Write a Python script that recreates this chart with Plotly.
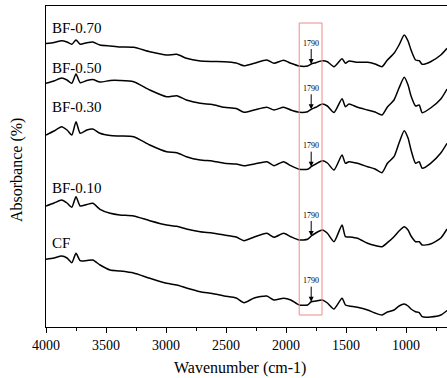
import plotly.graph_objects as go

# Wavenumbers (cm-1) sampled along the spectra
wavenumber = [4000, 3933, 3870, 3825, 3785, 3750, 3715, 3660, 3610, 3550, 3465, 3385,
              3270, 3135, 2995, 2910, 2830, 2715, 2615, 2515, 2415, 2350, 2265, 2160,
              2100, 2020, 1960, 1890, 1820, 1790, 1752, 1698, 1655, 1600, 1533, 1505,
              1475, 1405, 1320, 1258, 1200, 1155, 1100, 1058, 1015, 983, 958, 920,
              890, 865, 795, 710, 658]

# Absorbance (arbitrary units, stacked with offsets as in the figure)
bf070 = [283.5, 284.5, 286.3, 285.0, 282.7, 287.0, 282.7, 284.3, 285.0, 282.0, 281.0, 280.0,
         279.7, 275.3, 272.0, 272.7, 268.7, 266.0, 265.5, 265.3, 264.0, 261.3, 263.7, 267.0,
         263.7, 266.7, 263.7, 261.0, 261.0, 263.0, 264.3, 266.3, 265.3, 260.3, 268.3, 263.7,
         266.0, 264.7, 264.7, 263.0, 260.3, 267.0, 273.7, 282.0, 292.0, 286.0, 277.0, 267.0,
         266.3, 262.7, 265.3, 272.0, 278.7]
bf050 = [243.7, 246.0, 249.0, 247.0, 243.7, 253.0, 244.3, 246.5, 247.5, 245.0, 246.5, 246.5,
         245.3, 237.0, 230.3, 231.3, 227.0, 223.7, 222.5, 219.7, 218.5, 214.7, 217.0, 219.7,
         217.0, 219.7, 217.0, 214.7, 215.3, 217.7, 219.7, 223.0, 221.0, 214.5, 228.3, 220.3,
         223.0, 219.7, 217.0, 215.0, 212.0, 220.0, 227.0, 239.0, 249.7, 242.0, 231.0, 221.0,
         222.0, 214.3, 219.0, 228.0, 238.0]
bf030 = [192.0, 196.0, 200.3, 197.0, 192.0, 205.3, 193.7, 197.0, 198.0, 193.7, 191.5, 191.0,
         190.3, 182.0, 175.3, 174.3, 170.3, 167.0, 166.0, 163.7, 163.0, 161.3, 163.0, 165.3,
         161.3, 165.3, 161.3, 157.7, 157.7, 160.3, 163.0, 166.3, 164.0, 157.0, 172.0, 163.7,
         165.3, 163.7, 160.3, 158.0, 154.3, 163.7, 170.3, 184.0, 196.3, 189.0, 177.0, 163.7,
         165.3, 158.7, 163.7, 174.0, 183.7]
bf010 = [121.0, 124.0, 127.0, 124.0, 119.7, 130.3, 121.0, 122.5, 123.7, 117.7, 113.7, 112.0,
         111.0, 106.3, 102.0, 100.7, 98.0, 95.3, 94.0, 92.0, 90.0, 86.3, 90.0, 93.7,
         89.7, 93.7, 90.3, 87.0, 87.7, 91.0, 94.0, 97.0, 93.7, 85.3, 102.0, 90.3,
         90.0, 88.7, 83.7, 81.5, 80.3, 84.3, 90.3, 96.0, 100.3, 97.0, 91.0, 85.3,
         85.3, 82.0, 83.0, 89.0, 98.0]
cf = [67.7, 69.0, 71.0, 69.0, 64.3, 73.7, 66.3, 66.5, 67.0, 62.0, 57.0, 56.0,
      54.0, 48.7, 43.7, 42.0, 39.0, 35.3, 33.5, 31.0, 29.0, 24.3, 29.0, 31.0,
      27.0, 28.7, 27.0, 22.0, 22.0, 25.3, 26.0, 27.0, 24.0, 18.0, 28.7, 22.0,
      21.0, 19.7, 17.0, 14.0, 12.0, 15.0, 17.0, 21.0, 23.0, 21.0, 18.0, 15.3,
      14.3, 10.3, 10.0, 12.0, 16.5]

series_names = ["BF-0.70", "BF-0.50", "BF-0.30", "BF-0.10", "CF"]
series_values = [bf070, bf050, bf030, bf010, cf]
label_levels = [299.5, 259.5, 220.5, 139.0, 84.5]
marker_wn = 1790
marker_tip = [263.0, 217.7, 160.3, 91.0, 25.3]
tick_values = [4000, 3500, 3000, 2500, 2000, 1500, 1000]
tick_labels = ["4000", "3500", "3000", "2500", "2000", "1500", "1000"]
minor_ticks = [3750, 3250, 2750, 2250, 1750, 1250, 750]

serif = "Liberation Serif, Times New Roman, serif"

fig = go.Figure()
for name, vals in zip(series_names, series_values):
    fig.add_trace(go.Scatter(x=wavenumber, y=vals, mode="lines", name=name,
                             line=dict(color="black", width=1.5, shape="spline", smoothing=0.6),
                             showlegend=False, hoverinfo="skip"))

for name, lvl in zip(series_names, label_levels):
    fig.add_annotation(x=3967, y=lvl, xref="x", yref="y", text=name, showarrow=False,
                       xanchor="left", yanchor="middle",
                       font=dict(family=serif, size=15, color="black"))
for tip in marker_tip:
    fig.add_annotation(x=marker_wn, y=tip, xref="x", yref="y", text=str(marker_wn),
                       showarrow=True, arrowhead=2, arrowsize=1, arrowwidth=1,
                       arrowcolor="black", ax=0, ay=-21, standoff=0,
                       font=dict(family=serif, size=8, color="#000000"))

# axis titles placed as in the (cropped) original
fig.add_annotation(x=0.4838, y=-0.1277, xref="paper", yref="paper", text="Wavenumber (cm-1)",
                   showarrow=False, xanchor="center", yanchor="middle",
                   font=dict(family=serif, size=16, color="black"))
fig.add_annotation(x=-0.0723, y=0.489, xref="paper", yref="paper", text="Absorbance (%)",
                   showarrow=False, textangle=-90, xanchor="center", yanchor="middle",
                   font=dict(family=serif, size=16, color="black"))

fig.update_layout(
    width=447, height=378,
    margin=dict(l=46, r=0, t=6, b=51, autoexpand=False),
    plot_bgcolor="white", paper_bgcolor="white",
    showlegend=False,
    shapes=[dict(type="rect", xref="x", yref="y", x0=1890, x1=1700, y0=12, y1=304,
                 line=dict(color="#f08a8a", width=1), fillcolor="rgba(0,0,0,0)")],
)

fig.update_xaxes(range=[4000, 658.3], showline=True, linecolor="black", linewidth=1.2,
                 mirror=True, ticks="outside", ticklen=5, tickwidth=1, tickcolor="black",
                 tickmode="array", tickvals=tick_values, ticktext=tick_labels,
                 minor=dict(tickvals=minor_ticks, ticks="outside", ticklen=3, tickcolor="black"),
                 showgrid=False, zeroline=False, automargin=False,
                 tickfont=dict(family=serif, size=14, color="black"))
fig.update_yaxes(range=[0, 321], showline=True, linecolor="black", linewidth=1.2,
                 showticklabels=False, ticks="", showgrid=False, zeroline=False,
                 automargin=False)

fig.write_html("out.html", config={"displayModeBar": False},
               post_script="document.body.style.margin='0';document.body.style.overflow='hidden';")
